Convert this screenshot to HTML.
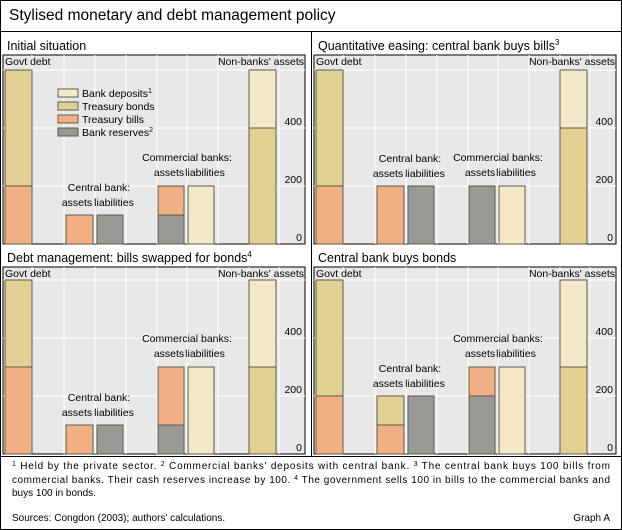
<!DOCTYPE html>
<html><head><meta charset="utf-8"><style>
body{margin:0;background:#fff;}
svg{display:block;font-family:"Liberation Sans",Arial,sans-serif;}
</style></head><body>
<svg id="s" width="622" height="530" viewBox="0 0 622 530" xmlns="http://www.w3.org/2000/svg">
<rect x="0.5" y="0.5" width="621" height="529" fill="#fff" stroke="#000"/>
<text x="9" y="20" font-size="15.5">Stylised monetary and debt management policy</text>
<line x1="0" y1="31.5" x2="622" y2="31.5" stroke="#000"/>
<line x1="311.5" y1="31" x2="311.5" y2="456" stroke="#000"/>
<line x1="0" y1="456.5" x2="622" y2="456.5" stroke="#000"/>
<text x="7" y="50" font-size="12.5">Initial situation</text>
<text x="318" y="50" font-size="12.5">Quantitative easing: central bank buys bills<tspan font-size="8" dy="-5">3</tspan></text>
<text x="7" y="262" font-size="12.5">Debt management: bills swapped for bonds<tspan font-size="8" dy="-5">4</tspan></text>
<text x="318" y="262" font-size="12.5">Central bank buys bonds</text>
<g id="g"></g>
<g font-size="10">
<text x="12" y="469" textLength="598" lengthAdjust="spacing"><tspan font-size="7" dy="-3">1</tspan><tspan dy="3">  Held by the private sector.  </tspan><tspan font-size="7" dy="-3">2</tspan><tspan dy="3">  Commercial banks' deposits with central bank.  </tspan><tspan font-size="7" dy="-3">3</tspan><tspan dy="3">  The central bank buys 100 bills from</tspan></text>
<text x="12" y="483" textLength="598" lengthAdjust="spacing">commercial banks. Their cash reserves increase by 100.   <tspan font-size="7" dy="-3">4</tspan><tspan dy="3">  The government sells 100 in bills to the commercial banks and</tspan></text>
<text x="12" y="496">buys 100 in bonds.</text>
<text x="12" y="521">Sources: Congdon (2003); authors' calculations.</text>
<text x="610" y="521" text-anchor="end">Graph A</text>
</g>
</svg>
<script>
const C={b:"#f0b084",n:"#e2cf92",d:"#f3e9c8",r:"#999a96"};
const P=[
 {ox:3,top:55,y0:244,g:[200,400],cba:[["b",100]],cbl:[["r",100]],coa:[["r",100],["b",100]],col:[["d",200]],nb:[["n",400],["d",200]],leg:1},
 {ox:314,top:55,y0:244,g:[200,400],cba:[["b",200]],cbl:[["r",200]],coa:[["r",200]],col:[["d",200]],nb:[["n",400],["d",200]]},
 {ox:3,top:267,y0:454,g:[300,300],cba:[["b",100]],cbl:[["r",100]],coa:[["r",100],["b",200]],col:[["d",300]],nb:[["n",300],["d",300]]},
 {ox:314,top:267,y0:454,g:[200,400],cba:[["b",100],["n",100]],cbl:[["r",200]],coa:[["r",200],["b",100]],col:[["d",300]],nb:[["n",300],["d",300]]}
];
const s=0.29;let h="";
function stack(x,w,y0,arr){let y=y0;for(const [c,v] of arr){const hh=v*s;y-=hh;h+=`<rect x="${x}" y="${y}" width="${w}" height="${hh}" fill="${C[c]}" stroke="#5e5b50" stroke-width="1"/>`;}return y;}
for(const p of P){const o=p.ox,W=302;
 h+=`<rect x="${o}" y="${p.top}" width="${W}" height="${p.y0-p.top}" fill="#e8e8e8" stroke="#000"/>`;
 for(const gx of [29,61,92,123,154,184,215,246,276])h+=`<line x1="${o+gx}" y1="${p.top}" x2="${o+gx}" y2="${p.y0}" stroke="#fff"/>`;
 for(const v of [200,400,600])h+=`<line x1="${o}" y1="${p.y0-v*s}" x2="${o+W}" y2="${p.y0-v*s}" stroke="#fff"/>`;
 stack(o+2,27,p.y0,[["b",p.g[0]],["n",p.g[1]]]);
 let t1=stack(o+63,27,p.y0,p.cba);stack(o+94,26,p.y0,p.cbl);
 let t2=stack(o+155,26,p.y0,p.coa);let t3=stack(o+185,26,p.y0,p.col);t2=Math.min(t2,t3);
 stack(o+246,27,p.y0,p.nb);
 h+=`<g font-size="10.5">`;
 h+=`<text x="${o+2}" y="${p.top+10}">Govt debt</text><text x="${o+W-1}" y="${p.top+10}" text-anchor="end">Non-banks' assets</text>`;
 for(const v of [0,200,400])h+=`<text x="${o+W-3}" y="${p.y0-v*s-3}" text-anchor="end">${v}</text>`;
 h+=`<text x="${o+96}" y="${t1-24}" text-anchor="middle">Central bank:</text><text x="${o+74}" y="${t1-9}" text-anchor="middle">assets</text><text x="${o+111}" y="${t1-9}" text-anchor="middle">liabilities</text>`;
 h+=`<text x="${o+184}" y="${t2-25}" text-anchor="middle">Commercial banks:</text><text x="${o+166}" y="${t2-10}" text-anchor="middle">assets</text><text x="${o+202}" y="${t2-10}" text-anchor="middle">liabilities</text>`;
 if(p.leg){const L=[["d","Bank deposits","1"],["n","Treasury bonds",""],["b","Treasury bills",""],["r","Bank reserves","2"]];
  L.forEach((l,i)=>{const y=89+i*13;h+=`<rect x="${o+55}" y="${y}" width="20" height="8" fill="${C[l[0]]}" stroke="#5e5b50"/><text x="${o+79}" y="${y+8}">${l[1]}<tspan font-size="7" dy="-4">${l[2]}</tspan></text>`;});}
 h+=`</g>`;
}
document.getElementById("g").innerHTML=h;
</script>
</body></html>
